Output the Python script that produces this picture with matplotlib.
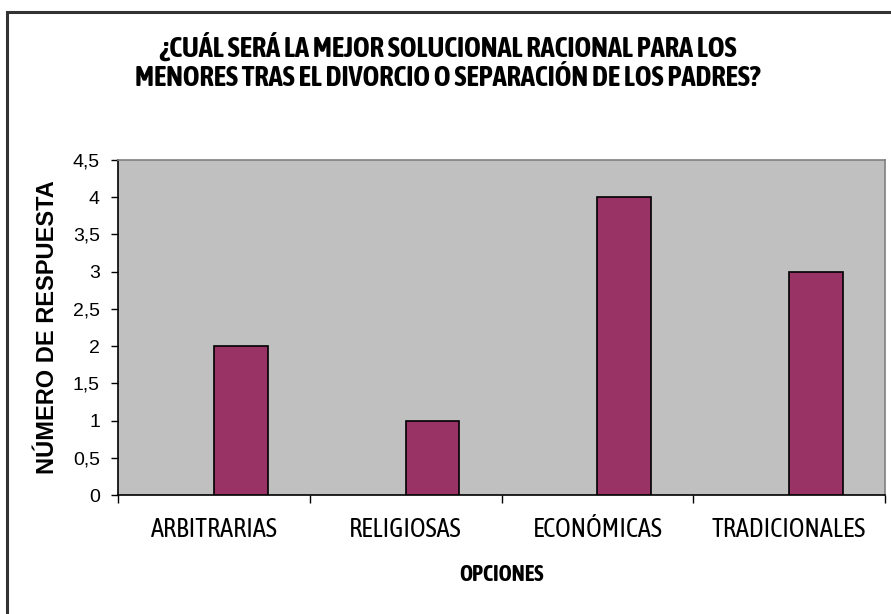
import matplotlib
matplotlib.use('Agg')
import matplotlib.pyplot as plt
import numpy as np
from matplotlib.patches import Rectangle
from matplotlib import font_manager

# Data
categories = ['ARBITRARIAS', 'RELIGIOSAS', 'ECONÓMICAS', 'TRADICIONALES']
responses = [2, 1, 4, 3]
y_ticks = [0, 0.5, 1, 1.5, 2, 2.5, 3, 3.5, 4, 4.5]
y_tick_labels = ['0', '0,5', '1', '1,5', '2', '2,5', '3', '3,5', '4', '4,5']
title = '¿CUÁL SERÁ LA MEJOR SOLUCIONAL RACIONAL PARA LOS\nMENORES TRAS EL DIVORCIO O SEPARACIÓN DE LOS PADRES?'

# narrow face for title / category text (Arial Narrow look)
names = {f.name for f in font_manager.fontManager.ttflist}
narrow = 'DejaVu Sans'
for cand in ['Liberation Sans Narrow', 'Asap Condensed', 'PT Sans Narrow',
             'Roboto Condensed', 'Fira Sans Condensed', 'Barlow Condensed']:
    if cand in names:
        narrow = cand
        break

plt.rcParams['font.family'] = ['Liberation Sans', 'DejaVu Sans']

W, H = 891, 614
fig = plt.figure(figsize=(W / 100, H / 100), dpi=100)

# outer chart border (cut off on right and bottom)
fig.patches.append(Rectangle((7 / W, -0.05), 1.1, (H - 12) / H + 0.05,
                             transform=fig.transFigure, fill=False,
                             edgecolor='#333333', linewidth=2.2))

ax = fig.add_axes([118 / W, (H - 495) / H, (885 - 118) / W, (495 - 160) / H])
ax.set_facecolor('#C0C0C0')

x = np.arange(len(categories))
ax.bar(x + 0.14, responses, width=0.28, color='#993366',
       edgecolor='black', linewidth=1.2, zorder=3)

ax.set_xlim(-0.5, len(categories) - 0.5)
ax.set_ylim(0, 4.5)
ax.set_yticks(y_ticks)
ax.set_yticklabels(y_tick_labels, fontsize=14)

# category ticks at slot boundaries, labels centred in slots
ax.set_xticks(np.arange(len(categories) + 1) - 0.5)
ax.set_xticklabels([])
ax.set_xticks(x, minor=True)
ax.set_xticklabels(categories, minor=True, fontsize=19, family=[narrow, 'DejaVu Sans'])
ax.tick_params(axis='x', which='minor', length=0, pad=16)
ax.tick_params(axis='x', which='major', length=6, width=1, direction='out')
ax.tick_params(axis='y', length=5, width=1, direction='out', pad=8)

for side in ['top', 'right']:
    ax.spines[side].set_color('#808080')
    ax.spines[side].set_linewidth(1.2)
for side in ['left', 'bottom']:
    ax.spines[side].set_color('black')
    ax.spines[side].set_linewidth(1.2)

ax.set_ylabel('NÚMERO DE RESPUESTA', fontsize=17, fontweight='bold', labelpad=10)
ax.set_xlabel('OPCIONES', fontsize=16, fontweight='bold',
              family=[narrow, 'DejaVu Sans'], labelpad=16)

fig.text(448 / W, 1 - 63 / H, title, ha='center', va='center',
         fontsize=20.5, fontweight='bold', family=[narrow, 'DejaVu Sans'],
         linespacing=1.12)

fig.savefig('out.png', dpi=100)
